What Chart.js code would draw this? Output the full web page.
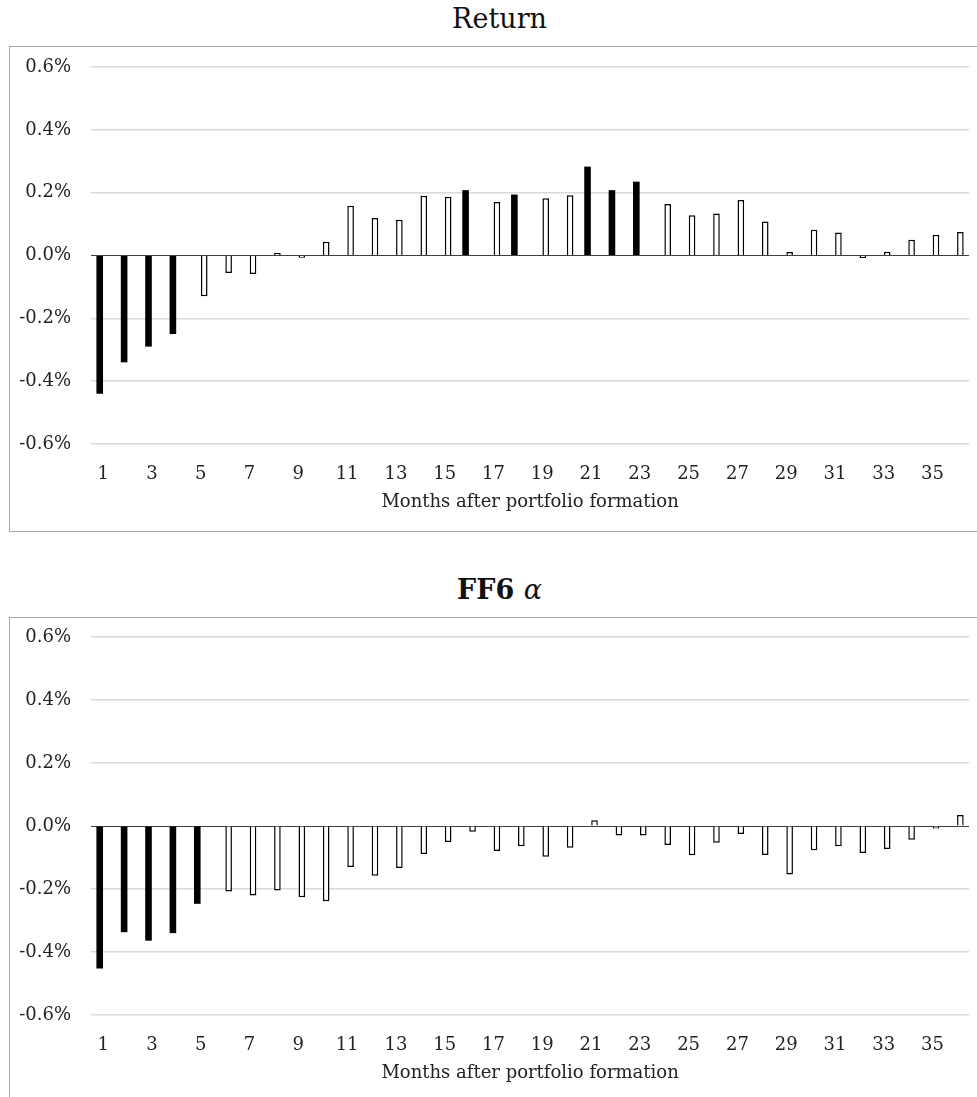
<!DOCTYPE html>
<html>
<head>
<meta charset="utf-8">
<script src="https://cdn.jsdelivr.net/npm/chart.js@4.4.1/dist/chart.umd.min.js"></script>
<style>
  body { margin: 0; background: #fff; width: 977px; height: 1097px; overflow: hidden; position: relative; }
  .frame { position: absolute; left: 9px; width: 981px; border: 1px solid #a6a6a6; box-sizing: border-box; }
  .title { position: absolute; left: 9px; width: 981px; text-align: center; font-family: "DejaVu Serif", serif; font-size: 27px; color: #111; line-height: 32px; }
  .holder { position: absolute; left: 10px; width: 967px; height: 484px; }
</style>
</head>
<body>
<div class="title" style="top:3px;">Return</div>
<div class="frame" style="top:46px; height:486px;"></div>
<div class="holder" style="top:47px;"><canvas id="returnChart"></canvas></div>

<div class="title" style="top:574px; font-weight:bold;">FF6 <span style="font-style:italic; font-weight:normal;">α</span></div>
<div class="frame" style="top:617px; height:500px;"></div>
<div class="holder" style="top:618px;"><canvas id="alphaChart"></canvas></div>

<script>
const months = ["1", "2", "3", "4", "5", "6", "7", "8", "9", "10", "11", "12",
  "13", "14", "15", "16", "17", "18", "19", "20", "21", "22", "23", "24",
  "25", "26", "27", "28", "29", "30", "31", "32", "33", "34", "35", "36"];

// monthly return spread, % per month
const returnValues = [-0.44, -0.34, -0.29, -0.25, -0.13, -0.056, -0.059, 0.008, -0.007, 0.044, 0.158, 0.119,
  0.114, 0.19, 0.187, 0.208, 0.17, 0.194, 0.182, 0.192, 0.283, 0.208, 0.235, 0.164,
  0.128, 0.134, 0.177, 0.108, 0.011, 0.082, 0.073, -0.008, 0.012, 0.05, 0.066, 0.075];
const returnSignificant = [1, 1, 1, 1, 0, 0, 0, 0, 0, 0, 0, 0,
  0, 0, 0, 1, 0, 1, 0, 0, 1, 1, 1, 0,
  0, 0, 0, 0, 0, 0, 0, 0, 0, 0, 0, 0];

// FF6 alpha, % per month
const alphaValues = [-0.452, -0.337, -0.364, -0.34, -0.247, -0.208, -0.221, -0.205, -0.226, -0.239, -0.13, -0.158,
  -0.133, -0.089, -0.051, -0.018, -0.079, -0.064, -0.098, -0.069, 0.018, -0.03, -0.03, -0.06,
  -0.093, -0.053, -0.025, -0.092, -0.154, -0.077, -0.064, -0.086, -0.073, -0.044, -0.008, 0.035];
const alphaSignificant = [1, 1, 1, 1, 1, 0, 0, 0, 0, 0, 0, 0,
  0, 0, 0, 0, 0, 0, 0, 0, 0, 0, 0, 0,
  0, 0, 0, 0, 0, 0, 0, 0, 0, 0, 0, 0];

const yTicks = [-0.6, -0.4, -0.2, 0, 0.2, 0.4, 0.6];

const serif = "'DejaVu Serif', serif";

function makeChart(id, values, significant, topPad) {
  const sig = values.map((v, i) => significant[i] ? v : null);
  const insig = values.map((v, i) => significant[i] ? null : v);

  new Chart(document.getElementById(id), {
    type: "bar",
    data: {
      labels: months,
      datasets: [
        { label: "significant", data: sig, backgroundColor: "#000", borderColor: "#000", borderWidth: 0 },
        { label: "insignificant", data: insig, backgroundColor: "#fff", borderColor: "#000", borderWidth: 1.5 },
      ],
    },
    options: {
      responsive: true,
      maintainAspectRatio: false,
      animation: false,
      layout: { padding: { top: topPad, right: 7, bottom: 0, left: 0 } },
      datasets: {
        bar: { categoryPercentage: 0.57, barPercentage: 0.95 },
      },
      plugins: {
        legend: { display: false },
        tooltip: { enabled: false },
      },
      scales: {
        x: {
          grid: { display: false, drawTicks: false },
          border: { display: false },
          ticks: {
            autoSkip: false,
            maxRotation: 0,
            padding: 20,
            color: "#222",
            font: { family: serif, size: 18 },
            callback: (v, i) => (i % 2 === 0 ? months[i] : ""),
          },
          title: {
            display: true,
            text: "Months after portfolio formation",
            color: "#222",
            font: { family: serif, size: 18 },
            padding: { top: 0, bottom: 18 },
          },
          afterFit: (scale) => { scale.height = 87; },
        },
        y: {
          min: yTicks[0],
          max: yTicks[yTicks.length - 1],
          afterBuildTicks: (scale) => { scale.ticks = yTicks.map((v) => ({ value: v })); },
          grid: {
            drawTicks: false,
            color: (ctx) => (ctx.tick && ctx.tick.value === 0 ? "#404040" : "#d9d9d9"),
            lineWidth: (ctx) => (ctx.tick && ctx.tick.value === 0 ? 1 : 1.5),
          },
          border: { display: false },
          ticks: {
            padding: 20,
            color: "#222",
            font: { family: serif, size: 18 },
            callback: (v) => v.toFixed(1) + "%",
          },
          afterFit: (scale) => {
            scale.width = 81;
            scale.paddingTop = 0;
            scale.paddingBottom = 0;
          },
        },
      },
    },
  });
}

makeChart("returnChart", returnValues, returnSignificant, 20);
makeChart("alphaChart", alphaValues, alphaSignificant, 19);
</script>
</body>
</html>
